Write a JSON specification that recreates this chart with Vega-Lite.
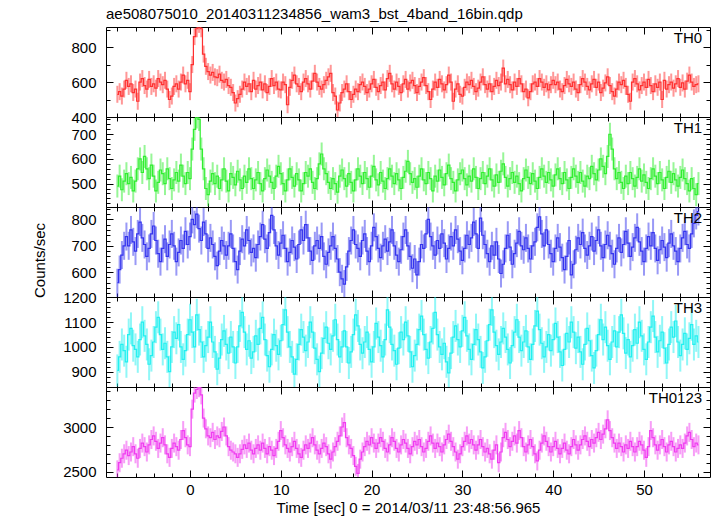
{
"$schema": "https://vega.github.io/schema/vega-lite/v6.json",
"padding": {"left": 32, "top": 6, "right": 6, "bottom": 0},
"config": {
 "view": {"stroke": "#000", "strokeWidth": 1},
 "axis": {"domain": false, "grid": false, "tickColor": "#000", "tickWidth": 1, "labelFont": "Liberation Sans", "labelFontSize": 15, "labelColor": "#000", "titleFont": "Liberation Sans", "titleFontSize": 15, "titleFontWeight": "normal", "titleColor": "#000", "labelFlush": false, "labelOverlap": false, "format": "d"},
 "text": {"font": "Liberation Sans"}
},
"datasets": {"d": [
{"t":-8,"a":530,"b":490,"c":560,"d":905,"s":2520},
{"t":-7.75,"a":545,"b":530,"c":610,"d":960,"s":2600},
{"t":-7.5,"a":520,"b":475,"c":665,"d":1010,"s":2650},
{"t":-7.25,"a":560,"b":510,"c":700,"d":985,"s":2700},
{"t":-7,"a":610,"b":540,"c":735,"d":940,"s":2740},
{"t":-6.75,"a":575,"b":500,"c":700,"d":1050,"s":2680},
{"t":-6.5,"a":590,"b":525,"c":760,"d":1075,"s":2720},
{"t":-6.25,"a":540,"b":470,"c":715,"d":1005,"s":2780},
{"t":-6,"a":560,"b":510,"c":680,"d":990,"s":2700},
{"t":-5.75,"a":490,"b":560,"c":745,"d":960,"s":2650},
{"t":-5.5,"a":600,"b":600,"c":790,"d":1030,"s":2760},
{"t":-5.25,"a":620,"b":545,"c":730,"d":1100,"s":2820},
{"t":-5,"a":580,"b":610,"c":705,"d":1045,"s":2780},
{"t":-4.75,"a":560,"b":560,"c":660,"d":1010,"s":2720},
{"t":-4.5,"a":615,"b":520,"c":690,"d":930,"s":2800},
{"t":-4.25,"a":575,"b":575,"c":745,"d":965,"s":2860},
{"t":-4,"a":590,"b":530,"c":775,"d":1020,"s":2900},
{"t":-3.75,"a":565,"b":470,"c":720,"d":1080,"s":2840},
{"t":-3.5,"a":620,"b":505,"c":670,"d":1120,"s":2760},
{"t":-3.25,"a":600,"b":555,"c":640,"d":1050,"s":2820},
{"t":-3,"a":585,"b":540,"c":690,"d":990,"s":2880},
{"t":-2.75,"a":610,"b":500,"c":725,"d":1015,"s":2800},
{"t":-2.5,"a":560,"b":560,"c":660,"d":960,"s":2700},
{"t":-2.25,"a":500,"b":520,"c":705,"d":900,"s":2660},
{"t":-2,"a":520,"b":480,"c":745,"d":1000,"s":2760},
{"t":-1.75,"a":575,"b":515,"c":700,"d":1060,"s":2820},
{"t":-1.5,"a":590,"b":545,"c":640,"d":1035,"s":2780},
{"t":-1.25,"a":560,"b":510,"c":675,"d":1090,"s":2740},
{"t":-1,"a":600,"b":575,"c":720,"d":1000,"s":2860},
{"t":-0.75,"a":640,"b":530,"c":690,"d":950,"s":2960},
{"t":-0.5,"a":590,"b":500,"c":755,"d":985,"s":2880},
{"t":-0.25,"a":610,"b":545,"c":705,"d":1050,"s":2800},
{"t":0,"a":545,"b":520,"c":735,"d":1110,"s":2780},
{"t":0.25,"a":700,"b":640,"c":800,"d":1060,"s":3200},
{"t":0.5,"a":860,"b":720,"c":780,"d":1000,"s":3380},
{"t":0.75,"a":905,"b":770,"c":820,"d":1130,"s":3420},
{"t":1,"a":930,"b":760,"c":765,"d":1070,"s":3440},
{"t":1.25,"a":905,"b":640,"c":720,"d":1020,"s":3360},
{"t":1.5,"a":760,"b":560,"c":790,"d":960,"s":3100},
{"t":1.75,"a":690,"b":480,"c":745,"d":1005,"s":2980},
{"t":2,"a":660,"b":455,"c":690,"d":1040,"s":2900},
{"t":2.25,"a":640,"b":510,"c":730,"d":1100,"s":2880},
{"t":2.5,"a":655,"b":540,"c":705,"d":1020,"s":2940},
{"t":2.75,"a":630,"b":500,"c":660,"d":980,"s":2860},
{"t":3,"a":625,"b":530,"c":625,"d":910,"s":2900},
{"t":3.25,"a":645,"b":480,"c":680,"d":955,"s":2880},
{"t":3.5,"a":610,"b":515,"c":720,"d":1030,"s":2950},
{"t":3.75,"a":600,"b":560,"c":700,"d":1065,"s":3000},
{"t":4,"a":615,"b":510,"c":665,"d":1010,"s":2900},
{"t":4.25,"a":580,"b":470,"c":700,"d":975,"s":2780},
{"t":4.5,"a":570,"b":540,"c":745,"d":1040,"s":2740},
{"t":4.75,"a":540,"b":525,"c":690,"d":1000,"s":2720},
{"t":5,"a":480,"b":495,"c":640,"d":935,"s":2700},
{"t":5.25,"a":505,"b":550,"c":610,"d":1000,"s":2660},
{"t":5.5,"a":530,"b":515,"c":680,"d":1085,"s":2700},
{"t":5.75,"a":560,"b":480,"c":725,"d":1140,"s":2750},
{"t":6,"a":600,"b":530,"c":700,"d":1060,"s":2800},
{"t":6.25,"a":575,"b":505,"c":760,"d":990,"s":2760},
{"t":6.5,"a":590,"b":560,"c":720,"d":1025,"s":2820},
{"t":6.75,"a":545,"b":520,"c":675,"d":955,"s":2740},
{"t":7,"a":610,"b":480,"c":690,"d":980,"s":2700},
{"t":7.25,"a":560,"b":515,"c":655,"d":1045,"s":2760},
{"t":7.5,"a":580,"b":545,"c":705,"d":1010,"s":2800},
{"t":7.75,"a":600,"b":500,"c":735,"d":1075,"s":2740},
{"t":8,"a":555,"b":470,"c":780,"d":1120,"s":2820},
{"t":8.25,"a":590,"b":520,"c":725,"d":1030,"s":2760},
{"t":8.5,"a":540,"b":555,"c":690,"d":965,"s":2700},
{"t":8.75,"a":575,"b":530,"c":750,"d":920,"s":2780},
{"t":9,"a":620,"b":505,"c":815,"d":990,"s":2740},
{"t":9.25,"a":580,"b":480,"c":760,"d":1050,"s":2680},
{"t":9.5,"a":600,"b":530,"c":700,"d":1005,"s":2760},
{"t":9.75,"a":560,"b":570,"c":665,"d":970,"s":2840},
{"t":10,"a":555,"b":540,"c":710,"d":1025,"s":2960},
{"t":10.25,"a":600,"b":500,"c":740,"d":1090,"s":2880},
{"t":10.5,"a":585,"b":470,"c":690,"d":1150,"s":2800},
{"t":10.75,"a":470,"b":515,"c":640,"d":1060,"s":2760},
{"t":11,"a":570,"b":560,"c":675,"d":1000,"s":2720},
{"t":11.25,"a":610,"b":525,"c":720,"d":960,"s":2780},
{"t":11.5,"a":640,"b":490,"c":695,"d":890,"s":2840},
{"t":11.75,"a":590,"b":540,"c":650,"d":950,"s":2760},
{"t":12,"a":575,"b":515,"c":705,"d":1010,"s":2700},
{"t":12.25,"a":545,"b":470,"c":760,"d":1070,"s":2660},
{"t":12.5,"a":600,"b":500,"c":720,"d":1040,"s":2740},
{"t":12.75,"a":620,"b":545,"c":780,"d":985,"s":2800},
{"t":13,"a":590,"b":530,"c":730,"d":1020,"s":2760},
{"t":13.25,"a":560,"b":560,"c":680,"d":1100,"s":2820},
{"t":13.5,"a":605,"b":505,"c":645,"d":1060,"s":2880},
{"t":13.75,"a":650,"b":480,"c":700,"d":995,"s":2800},
{"t":14,"a":600,"b":520,"c":720,"d":950,"s":2740},
{"t":14.25,"a":575,"b":580,"c":690,"d":900,"s":2700},
{"t":14.5,"a":560,"b":620,"c":735,"d":975,"s":2760},
{"t":14.75,"a":585,"b":560,"c":660,"d":1035,"s":2820},
{"t":15,"a":610,"b":540,"c":630,"d":1080,"s":2780},
{"t":15.25,"a":630,"b":505,"c":675,"d":1015,"s":2700},
{"t":15.5,"a":650,"b":480,"c":700,"d":990,"s":2640},
{"t":15.75,"a":540,"b":520,"c":735,"d":1045,"s":2720},
{"t":16,"a":520,"b":500,"c":690,"d":1110,"s":2780},
{"t":16.25,"a":440,"b":465,"c":650,"d":1030,"s":2840},
{"t":16.5,"a":480,"b":530,"c":600,"d":960,"s":2900},
{"t":16.75,"a":540,"b":555,"c":575,"d":1000,"s":3000},
{"t":17,"a":560,"b":520,"c":555,"d":1065,"s":3050},
{"t":17.25,"a":590,"b":490,"c":620,"d":1000,"s":2880},
{"t":17.5,"a":545,"b":540,"c":680,"d":935,"s":2800},
{"t":17.75,"a":500,"b":505,"c":720,"d":980,"s":2760},
{"t":18,"a":530,"b":470,"c":760,"d":1050,"s":2680},
{"t":18.25,"a":560,"b":515,"c":705,"d":1130,"s":2560},
{"t":18.5,"a":545,"b":560,"c":690,"d":1085,"s":2480},
{"t":18.75,"a":585,"b":530,"c":660,"d":1010,"s":2640},
{"t":19,"a":600,"b":500,"c":720,"d":975,"s":2720},
{"t":19.25,"a":575,"b":545,"c":745,"d":1020,"s":2780},
{"t":19.5,"a":540,"b":520,"c":680,"d":1060,"s":2840},
{"t":19.75,"a":560,"b":485,"c":640,"d":990,"s":2800},
{"t":20,"a":590,"b":530,"c":700,"d":940,"s":2880},
{"t":20.25,"a":615,"b":570,"c":770,"d":1000,"s":2820},
{"t":20.5,"a":570,"b":515,"c":735,"d":1095,"s":2760},
{"t":20.75,"a":545,"b":495,"c":690,"d":1040,"s":2820},
{"t":21,"a":580,"b":545,"c":655,"d":1005,"s":2880},
{"t":21.25,"a":600,"b":510,"c":700,"d":960,"s":2840},
{"t":21.5,"a":555,"b":480,"c":725,"d":1030,"s":2760},
{"t":21.75,"a":620,"b":520,"c":680,"d":1150,"s":2720},
{"t":22,"a":650,"b":560,"c":715,"d":1080,"s":2800},
{"t":22.25,"a":590,"b":530,"c":760,"d":1010,"s":2880},
{"t":22.5,"a":560,"b":500,"c":700,"d":985,"s":2840},
{"t":22.75,"a":600,"b":540,"c":665,"d":930,"s":2760},
{"t":23,"a":575,"b":515,"c":640,"d":995,"s":2720},
{"t":23.25,"a":540,"b":480,"c":685,"d":1060,"s":2800},
{"t":23.5,"a":590,"b":525,"c":735,"d":1030,"s":2860},
{"t":23.75,"a":615,"b":550,"c":760,"d":1100,"s":2820},
{"t":24,"a":560,"b":590,"c":700,"d":1045,"s":2760},
{"t":24.25,"a":595,"b":540,"c":660,"d":980,"s":2700},
{"t":24.5,"a":610,"b":505,"c":615,"d":920,"s":2780},
{"t":24.75,"a":580,"b":520,"c":650,"d":965,"s":2840},
{"t":25,"a":540,"b":485,"c":590,"d":1010,"s":2800},
{"t":25.25,"a":575,"b":530,"c":640,"d":1070,"s":2860},
{"t":25.5,"a":600,"b":560,"c":705,"d":1125,"s":2780},
{"t":25.75,"a":625,"b":515,"c":690,"d":1050,"s":2720},
{"t":26,"a":580,"b":500,"c":745,"d":990,"s":2760},
{"t":26.25,"a":545,"b":545,"c":800,"d":955,"s":2840},
{"t":26.5,"a":500,"b":520,"c":735,"d":1020,"s":2900},
{"t":26.75,"a":560,"b":470,"c":700,"d":1075,"s":2820},
{"t":27,"a":600,"b":530,"c":665,"d":1140,"s":2760},
{"t":27.25,"a":570,"b":510,"c":720,"d":1050,"s":2820},
{"t":27.5,"a":615,"b":555,"c":690,"d":1000,"s":2780},
{"t":27.75,"a":590,"b":525,"c":745,"d":970,"s":2720},
{"t":28,"a":555,"b":495,"c":710,"d":1015,"s":2800},
{"t":28.25,"a":585,"b":540,"c":650,"d":940,"s":2860},
{"t":28.5,"a":640,"b":575,"c":690,"d":895,"s":2920},
{"t":28.75,"a":600,"b":520,"c":735,"d":975,"s":2840},
{"t":29,"a":490,"b":505,"c":700,"d":1040,"s":2780},
{"t":29.25,"a":560,"b":470,"c":760,"d":1085,"s":2720},
{"t":29.5,"a":590,"b":515,"c":725,"d":1030,"s":2640},
{"t":29.75,"a":530,"b":540,"c":680,"d":1000,"s":2700},
{"t":30,"a":520,"b":555,"c":645,"d":1065,"s":2780},
{"t":30.25,"a":570,"b":520,"c":690,"d":1120,"s":2840},
{"t":30.5,"a":600,"b":495,"c":740,"d":1045,"s":2900},
{"t":30.75,"a":585,"b":530,"c":705,"d":990,"s":2820},
{"t":31,"a":610,"b":510,"c":730,"d":950,"s":2860},
{"t":31.25,"a":575,"b":560,"c":790,"d":1010,"s":2800},
{"t":31.5,"a":545,"b":525,"c":745,"d":1070,"s":2740},
{"t":31.75,"a":565,"b":480,"c":690,"d":1030,"s":2800},
{"t":32,"a":600,"b":520,"c":805,"d":980,"s":2860},
{"t":32.25,"a":630,"b":545,"c":740,"d":915,"s":2780},
{"t":32.5,"a":585,"b":500,"c":705,"d":960,"s":2720},
{"t":32.75,"a":560,"b":530,"c":670,"d":1025,"s":2760},
{"t":33,"a":590,"b":560,"c":640,"d":1090,"s":2700},
{"t":33.25,"a":545,"b":515,"c":700,"d":1150,"s":2640},
{"t":33.5,"a":575,"b":490,"c":665,"d":1060,"s":2740},
{"t":33.75,"a":610,"b":535,"c":715,"d":1005,"s":2800},
{"t":34,"a":580,"b":505,"c":650,"d":970,"s":2600},
{"t":34.25,"a":600,"b":550,"c":595,"d":1020,"s":2720},
{"t":34.5,"a":680,"b":580,"c":630,"d":1075,"s":2880},
{"t":34.75,"a":590,"b":525,"c":690,"d":1040,"s":2940},
{"t":35,"a":615,"b":490,"c":740,"d":990,"s":2860},
{"t":35.25,"a":585,"b":520,"c":695,"d":935,"s":2780},
{"t":35.5,"a":555,"b":545,"c":630,"d":1005,"s":2840},
{"t":35.75,"a":600,"b":505,"c":670,"d":1060,"s":2900},
{"t":36,"a":575,"b":530,"c":710,"d":1110,"s":2820},
{"t":36.25,"a":620,"b":500,"c":755,"d":1040,"s":2960},
{"t":36.5,"a":590,"b":470,"c":700,"d":985,"s":2880},
{"t":36.75,"a":545,"b":520,"c":685,"d":1020,"s":2780},
{"t":37,"a":560,"b":555,"c":730,"d":1065,"s":2720},
{"t":37.25,"a":510,"b":525,"c":690,"d":1000,"s":2800},
{"t":37.5,"a":545,"b":500,"c":650,"d":950,"s":2860},
{"t":37.75,"a":590,"b":540,"c":700,"d":1010,"s":2780},
{"t":38,"a":600,"b":510,"c":715,"d":1085,"s":2700},
{"t":38.25,"a":575,"b":480,"c":770,"d":1145,"s":2620},
{"t":38.5,"a":620,"b":525,"c":810,"d":1070,"s":2740},
{"t":38.75,"a":600,"b":560,"c":745,"d":1015,"s":2820},
{"t":39,"a":570,"b":530,"c":700,"d":960,"s":2900},
{"t":39.25,"a":590,"b":505,"c":760,"d":1000,"s":2840},
{"t":39.5,"a":555,"b":545,"c":705,"d":1050,"s":2780},
{"t":39.75,"a":585,"b":515,"c":670,"d":985,"s":2720},
{"t":40,"a":610,"b":490,"c":640,"d":1030,"s":2780},
{"t":40.25,"a":585,"b":535,"c":690,"d":1095,"s":2840},
{"t":40.5,"a":600,"b":560,"c":730,"d":1040,"s":2760},
{"t":40.75,"a":560,"b":520,"c":695,"d":980,"s":2700},
{"t":41,"a":545,"b":500,"c":655,"d":925,"s":2760},
{"t":41.25,"a":580,"b":545,"c":610,"d":990,"s":2820},
{"t":41.5,"a":615,"b":515,"c":660,"d":1055,"s":2740},
{"t":41.75,"a":590,"b":480,"c":720,"d":1020,"s":2700},
{"t":42,"a":575,"b":525,"c":590,"d":1100,"s":2780},
{"t":42.25,"a":600,"b":560,"c":630,"d":1060,"s":2860},
{"t":42.5,"a":560,"b":530,"c":685,"d":995,"s":2800},
{"t":42.75,"a":540,"b":505,"c":730,"d":1040,"s":2740},
{"t":43,"a":585,"b":545,"c":705,"d":980,"s":2800},
{"t":43.25,"a":620,"b":510,"c":750,"d":930,"s":2860},
{"t":43.5,"a":600,"b":490,"c":690,"d":1010,"s":2900},
{"t":43.75,"a":575,"b":530,"c":665,"d":1075,"s":2840},
{"t":44,"a":555,"b":520,"c":700,"d":1025,"s":2780},
{"t":44.25,"a":590,"b":570,"c":735,"d":965,"s":2860},
{"t":44.5,"a":615,"b":540,"c":680,"d":915,"s":2820},
{"t":44.75,"a":570,"b":515,"c":720,"d":985,"s":2880},
{"t":45,"a":600,"b":555,"c":760,"d":1050,"s":2940},
{"t":45.25,"a":540,"b":600,"c":700,"d":1110,"s":2860},
{"t":45.5,"a":565,"b":570,"c":655,"d":1030,"s":2920},
{"t":45.75,"a":595,"b":540,"c":705,"d":1080,"s":2980},
{"t":46,"a":630,"b":610,"c":740,"d":1005,"s":3080},
{"t":46.25,"a":580,"b":700,"c":700,"d":950,"s":2960},
{"t":46.5,"a":545,"b":640,"c":670,"d":1020,"s":2880},
{"t":46.75,"a":520,"b":560,"c":630,"d":1065,"s":2820},
{"t":47,"a":560,"b":520,"c":690,"d":1000,"s":2760},
{"t":47.25,"a":600,"b":545,"c":730,"d":1060,"s":2820},
{"t":47.5,"a":585,"b":505,"c":675,"d":1130,"s":2780},
{"t":47.75,"a":610,"b":480,"c":705,"d":1055,"s":2720},
{"t":48,"a":575,"b":530,"c":755,"d":975,"s":2800},
{"t":48.25,"a":530,"b":500,"c":710,"d":1030,"s":2760},
{"t":48.5,"a":490,"b":545,"c":660,"d":960,"s":2840},
{"t":48.75,"a":600,"b":520,"c":695,"d":1005,"s":2780},
{"t":49,"a":620,"b":490,"c":730,"d":1070,"s":2720},
{"t":49.25,"a":590,"b":525,"c":770,"d":1015,"s":2780},
{"t":49.5,"a":555,"b":560,"c":715,"d":1100,"s":2840},
{"t":49.75,"a":580,"b":510,"c":680,"d":1045,"s":2800},
{"t":50,"a":600,"b":535,"c":640,"d":990,"s":2740},
{"t":50.25,"a":570,"b":505,"c":690,"d":950,"s":2660},
{"t":50.5,"a":615,"b":480,"c":735,"d":1020,"s":2780},
{"t":50.75,"a":580,"b":520,"c":700,"d":1080,"s":2960},
{"t":51,"a":545,"b":560,"c":750,"d":1125,"s":2880},
{"t":51.25,"a":590,"b":530,"c":690,"d":1040,"s":2800},
{"t":51.5,"a":570,"b":500,"c":645,"d":980,"s":2740},
{"t":51.75,"a":600,"b":545,"c":685,"d":1025,"s":2800},
{"t":52,"a":500,"b":515,"c":720,"d":1060,"s":2860},
{"t":52.25,"a":610,"b":480,"c":695,"d":995,"s":2780},
{"t":52.5,"a":560,"b":525,"c":655,"d":935,"s":2720},
{"t":52.75,"a":585,"b":550,"c":710,"d":1010,"s":2800},
{"t":53,"a":600,"b":505,"c":745,"d":1080,"s":2840},
{"t":53.25,"a":565,"b":540,"c":700,"d":1040,"s":2780},
{"t":53.5,"a":590,"b":515,"c":680,"d":1105,"s":2720},
{"t":53.75,"a":620,"b":490,"c":640,"d":1020,"s":2760},
{"t":54,"a":570,"b":525,"c":690,"d":965,"s":2800},
{"t":54.25,"a":595,"b":555,"c":730,"d":1010,"s":2760},
{"t":54.5,"a":560,"b":520,"c":755,"d":1055,"s":2820},
{"t":54.75,"a":605,"b":500,"c":705,"d":990,"s":2900},
{"t":55,"a":640,"b":470,"c":690,"d":1035,"s":2940},
{"t":55.25,"a":600,"b":520,"c":745,"d":1090,"s":2860},
{"t":55.5,"a":575,"b":480,"c":785,"d":1010,"s":2780},
{"t":55.75,"a":585,"b":455,"c":815,"d":1045,"s":2820},
{"t":56,"a":590,"b":500,"c":830,"d":1020,"s":2800}
]},
"data": {"name": "d"},
"spacing": 0,
"bounds": "flush",
"vconcat": [
{
 "width": 604, "height": 90,
 "title": {"text": "ae508075010_20140311234856_wam3_bst_4band_16bin.qdp", "anchor": "start", "frame": "group", "offset": -9, "baseline": "alphabetic", "fontSize": 15, "font": "Liberation Sans", "fontWeight": "normal", "color": "#000"},
 "layer": [
  {"mark": {"type": "tick", "orient": "vertical", "size": 17, "thickness": 2, "color": "#ff3030", "opacity": 0.5, "clip": true},
   "encoding": {
    "x": {"field": "t", "type": "quantitative", "scale": {"domain": [-9.25, 57.27], "nice": false, "zero": false}, "axis": {"orient": "bottom", "values": [0,10,20,30,40,50], "tickSize": -7, "labels": false, "title": null}},
    "y": {"field": "a", "type": "quantitative", "scale": {"domain": [400, 915], "nice": false, "zero": false}, "axis": {"orient": "left", "values": [400,600,800], "tickSize": -7, "labelPadding": 17, "title": null}}}},
  {"mark": {"type": "line", "interpolate": "step", "color": "#ff3030", "strokeWidth": 1.2, "clip": true},
   "encoding": {
    "x": {"field": "t", "type": "quantitative", "axis": {"orient": "top", "values": [0,10,20,30,40,50], "tickSize": -7, "labels": false, "title": null}},
    "y": {"field": "a", "type": "quantitative", "axis": {"orient": "right", "values": [400,600,800], "tickSize": -7, "labels": false, "title": null}}}},
  {"data": {"values": [{}]},
   "mark": {"type": "text", "text": "TH0", "align": "right", "baseline": "top", "fontSize": 15, "font": "Liberation Sans", "color": "#000"},
   "encoding": {
    "x": {"datum": 56.4, "type": "quantitative", "axis": {"orient": "bottom", "values": [-8,-6,-4,-2,2,4,6,8,12,14,16,18,22,24,26,28,32,34,36,38,42,44,46,48,52,54,56], "tickSize": -4, "labels": false, "title": null}},
    "y": {"datum": 892, "type": "quantitative", "axis": {"orient": "left", "values": [500,700,900], "tickSize": -4, "labels": false, "title": null}}}},
  {"data": {"values": [{}]},
   "mark": {"type": "text", "text": ""},
   "encoding": {
    "x": {"datum": 0, "type": "quantitative", "axis": {"orient": "top", "values": [-8,-6,-4,-2,2,4,6,8,12,14,16,18,22,24,26,28,32,34,36,38,42,44,46,48,52,54,56], "tickSize": -4, "labels": false, "title": null}},
    "y": {"datum": 892, "type": "quantitative", "axis": {"orient": "right", "values": [500,700,900], "tickSize": -4, "labels": false, "title": null}}}}
 ],
 "resolve": {"axis": {"x": "independent", "y": "independent"}}
},
{
 "width": 604, "height": 90,
 "layer": [
  {"mark": {"type": "tick", "orient": "vertical", "size": 23, "thickness": 2, "color": "#30ee30", "opacity": 0.5, "clip": true},
   "encoding": {
    "x": {"field": "t", "type": "quantitative", "scale": {"domain": [-9.25, 57.27], "nice": false, "zero": false}, "axis": {"orient": "bottom", "values": [0,10,20,30,40,50], "tickSize": -7, "labels": false, "title": null}},
    "y": {"field": "b", "type": "quantitative", "scale": {"domain": [405, 770], "nice": false, "zero": false}, "axis": {"orient": "left", "values": [500,600,700], "tickSize": -7, "labelPadding": 17, "title": null}}}},
  {"mark": {"type": "line", "interpolate": "step", "color": "#30ee30", "strokeWidth": 1.2, "clip": true},
   "encoding": {
    "x": {"field": "t", "type": "quantitative", "axis": {"orient": "top", "values": [0,10,20,30,40,50], "tickSize": -7, "labels": false, "title": null}},
    "y": {"field": "b", "type": "quantitative", "axis": {"orient": "right", "values": [500,600,700], "tickSize": -7, "labels": false, "title": null}}}},
  {"data": {"values": [{}]},
   "mark": {"type": "text", "text": "TH1", "align": "right", "baseline": "top", "fontSize": 15, "font": "Liberation Sans", "color": "#000"},
   "encoding": {
    "x": {"datum": 56.4, "type": "quantitative", "axis": {"orient": "bottom", "values": [-8,-6,-4,-2,2,4,6,8,12,14,16,18,22,24,26,28,32,34,36,38,42,44,46,48,52,54,56], "tickSize": -4, "labels": false, "title": null}},
    "y": {"datum": 754, "type": "quantitative", "axis": {"orient": "left", "values": [420,440,460,480,520,540,560,580,620,640,660,680,720,740,760], "tickSize": -4, "labels": false, "title": null}}}},
  {"data": {"values": [{}]},
   "mark": {"type": "text", "text": ""},
   "encoding": {
    "x": {"datum": 0, "type": "quantitative", "axis": {"orient": "top", "values": [-8,-6,-4,-2,2,4,6,8,12,14,16,18,22,24,26,28,32,34,36,38,42,44,46,48,52,54,56], "tickSize": -4, "labels": false, "title": null}},
    "y": {"datum": 754, "type": "quantitative", "axis": {"orient": "right", "values": [420,440,460,480,520,540,560,580,620,640,660,680,720,740,760], "tickSize": -4, "labels": false, "title": null}}}}
 ],
 "resolve": {"axis": {"x": "independent", "y": "independent"}}
},
{
 "width": 604, "height": 90,
 "layer": [
  {"mark": {"type": "tick", "orient": "vertical", "size": 28, "thickness": 2, "color": "#3434ee", "opacity": 0.5, "clip": true},
   "encoding": {
    "x": {"field": "t", "type": "quantitative", "scale": {"domain": [-9.25, 57.27], "nice": false, "zero": false}, "axis": {"orient": "bottom", "values": [0,10,20,30,40,50], "tickSize": -7, "labels": false, "title": null}},
    "y": {"field": "c", "type": "quantitative", "scale": {"domain": [506, 847], "nice": false, "zero": false}, "axis": {"orient": "left", "values": [600,700,800], "tickSize": -7, "labelPadding": 17, "title": "Counts/sec", "titlePadding": 23, "titleY": 53}}}},
  {"mark": {"type": "line", "interpolate": "step", "color": "#3434ee", "strokeWidth": 1.2, "clip": true},
   "encoding": {
    "x": {"field": "t", "type": "quantitative", "axis": {"orient": "top", "values": [0,10,20,30,40,50], "tickSize": -7, "labels": false, "title": null}},
    "y": {"field": "c", "type": "quantitative", "axis": {"orient": "right", "values": [600,700,800], "tickSize": -7, "labels": false, "title": null}}}},
  {"data": {"values": [{}]},
   "mark": {"type": "text", "text": "TH2", "align": "right", "baseline": "top", "fontSize": 15, "font": "Liberation Sans", "color": "#000"},
   "encoding": {
    "x": {"datum": 56.4, "type": "quantitative", "axis": {"orient": "bottom", "values": [-8,-6,-4,-2,2,4,6,8,12,14,16,18,22,24,26,28,32,34,36,38,42,44,46,48,52,54,56], "tickSize": -4, "labels": false, "title": null}},
    "y": {"datum": 832, "type": "quantitative", "axis": {"orient": "left", "values": [520,540,560,580,620,640,660,680,720,740,760,780,820,840], "tickSize": -4, "labels": false, "title": null}}}},
  {"data": {"values": [{}]},
   "mark": {"type": "text", "text": ""},
   "encoding": {
    "x": {"datum": 0, "type": "quantitative", "axis": {"orient": "top", "values": [-8,-6,-4,-2,2,4,6,8,12,14,16,18,22,24,26,28,32,34,36,38,42,44,46,48,52,54,56], "tickSize": -4, "labels": false, "title": null}},
    "y": {"datum": 832, "type": "quantitative", "axis": {"orient": "right", "values": [520,540,560,580,620,640,660,680,720,740,760,780,820,840], "tickSize": -4, "labels": false, "title": null}}}}
 ],
 "resolve": {"axis": {"x": "independent", "y": "independent"}}
},
{
 "width": 604, "height": 90,
 "layer": [
  {"mark": {"type": "tick", "orient": "vertical", "size": 32, "thickness": 2, "color": "#22f0f0", "opacity": 0.5, "clip": true},
   "encoding": {
    "x": {"field": "t", "type": "quantitative", "scale": {"domain": [-9.25, 57.27], "nice": false, "zero": false}, "axis": {"orient": "bottom", "values": [0,10,20,30,40,50], "tickSize": -7, "labels": false, "title": null}},
    "y": {"field": "d", "type": "quantitative", "scale": {"domain": [838, 1202], "nice": false, "zero": false}, "axis": {"orient": "left", "values": [900,1000,1100,1200], "tickSize": -7, "labelPadding": 17, "title": null}}}},
  {"mark": {"type": "line", "interpolate": "step", "color": "#22f0f0", "strokeWidth": 1.2, "clip": true},
   "encoding": {
    "x": {"field": "t", "type": "quantitative", "axis": {"orient": "top", "values": [0,10,20,30,40,50], "tickSize": -7, "labels": false, "title": null}},
    "y": {"field": "d", "type": "quantitative", "axis": {"orient": "right", "values": [900,1000,1100,1200], "tickSize": -7, "labels": false, "title": null}}}},
  {"data": {"values": [{}]},
   "mark": {"type": "text", "text": "TH3", "align": "right", "baseline": "top", "fontSize": 15, "font": "Liberation Sans", "color": "#000"},
   "encoding": {
    "x": {"datum": 56.4, "type": "quantitative", "axis": {"orient": "bottom", "values": [-8,-6,-4,-2,2,4,6,8,12,14,16,18,22,24,26,28,32,34,36,38,42,44,46,48,52,54,56], "tickSize": -4, "labels": false, "title": null}},
    "y": {"datum": 1186, "type": "quantitative", "axis": {"orient": "left", "values": [840,860,880,920,940,960,980,1020,1040,1060,1080,1120,1140,1160,1180], "tickSize": -4, "labels": false, "title": null}}}},
  {"data": {"values": [{}]},
   "mark": {"type": "text", "text": ""},
   "encoding": {
    "x": {"datum": 0, "type": "quantitative", "axis": {"orient": "top", "values": [-8,-6,-4,-2,2,4,6,8,12,14,16,18,22,24,26,28,32,34,36,38,42,44,46,48,52,54,56], "tickSize": -4, "labels": false, "title": null}},
    "y": {"datum": 1186, "type": "quantitative", "axis": {"orient": "right", "values": [840,860,880,920,940,960,980,1020,1040,1060,1080,1120,1140,1160,1180], "tickSize": -4, "labels": false, "title": null}}}}
 ],
 "resolve": {"axis": {"x": "independent", "y": "independent"}}
},
{
 "width": 604, "height": 90,
 "layer": [
  {"mark": {"type": "tick", "orient": "vertical", "size": 19, "thickness": 2, "color": "#f03cf0", "opacity": 0.5, "clip": true},
   "encoding": {
    "x": {"field": "t", "type": "quantitative", "scale": {"domain": [-9.25, 57.27], "nice": false, "zero": false}, "axis": {"orient": "bottom", "values": [0,10,20,30,40,50], "tickSize": -7, "labels": true, "labelPadding": 12, "title": "Time [sec] 0 = 2014/03/11 23:48:56.965", "titlePadding": 3}},
    "y": {"field": "s", "type": "quantitative", "scale": {"domain": [2440, 3448], "nice": false, "zero": false}, "axis": {"orient": "left", "values": [2500,3000], "tickSize": -7, "labelPadding": 17, "title": null}}}},
  {"mark": {"type": "line", "interpolate": "step", "color": "#f03cf0", "strokeWidth": 1.2, "clip": true},
   "encoding": {
    "x": {"field": "t", "type": "quantitative", "axis": {"orient": "top", "values": [0,10,20,30,40,50], "tickSize": -7, "labels": false, "title": null}},
    "y": {"field": "s", "type": "quantitative", "axis": {"orient": "right", "values": [2500,3000], "tickSize": -7, "labels": false, "title": null}}}},
  {"data": {"values": [{}]},
   "mark": {"type": "text", "text": "TH0123", "align": "right", "baseline": "top", "fontSize": 15, "font": "Liberation Sans", "color": "#000"},
   "encoding": {
    "x": {"datum": 56.4, "type": "quantitative", "axis": {"orient": "bottom", "values": [-8,-6,-4,-2,2,4,6,8,12,14,16,18,22,24,26,28,32,34,36,38,42,44,46,48,52,54,56], "tickSize": -4, "labels": false, "title": null}},
    "y": {"datum": 3403, "type": "quantitative", "axis": {"orient": "left", "values": [2600,2700,2800,2900,3100,3200,3300,3400], "tickSize": -4, "labels": false, "title": null}}}},
  {"data": {"values": [{}]},
   "mark": {"type": "text", "text": ""},
   "encoding": {
    "x": {"datum": 0, "type": "quantitative", "axis": {"orient": "top", "values": [-8,-6,-4,-2,2,4,6,8,12,14,16,18,22,24,26,28,32,34,36,38,42,44,46,48,52,54,56], "tickSize": -4, "labels": false, "title": null}},
    "y": {"datum": 3403, "type": "quantitative", "axis": {"orient": "right", "values": [2600,2700,2800,2900,3100,3200,3300,3400], "tickSize": -4, "labels": false, "title": null}}}}
 ],
 "resolve": {"axis": {"x": "independent", "y": "independent"}}
}
]
}
